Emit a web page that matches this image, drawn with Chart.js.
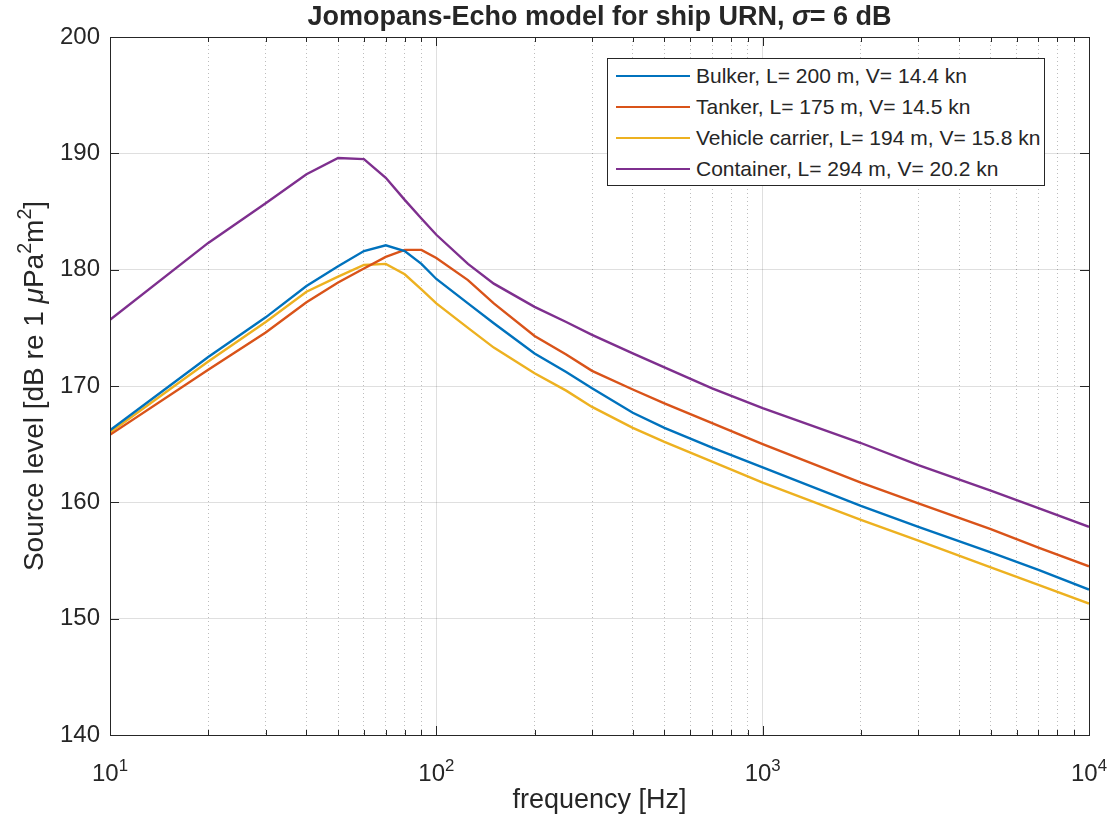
<!DOCTYPE html>
<html>
<head>
<meta charset="utf-8">
<script src="https://cdn.jsdelivr.net/npm/chart.js@4.4.0/dist/chart.umd.min.js"></script>
<style>
  body { margin: 0; background: #fff; }
  #wrap { position: relative; width: 1110px; height: 820px; }
  #legend {
    position: absolute; left: 607px; top: 58px; width: 436px; height: 124px;
    padding-top: 2px; border: 1px solid #262626; background: #fff;
    font: 21px "Liberation Sans", Arial, Helvetica, sans-serif; color: #262626;
  }
  .row { height: 30.8px; display: flex; align-items: center; white-space: nowrap; }
  .swatch { width: 74px; height: 2px; margin-left: 8px; margin-right: 6px; }
</style>
</head>
<body>
<div id="wrap">
  <canvas id="myChart"></canvas>
  <div id="legend"></div>
</div>
<script>
'use strict';

// frequencies in Hz, source levels
const freqs = [10, 20, 30, 40, 50, 60, 70, 80, 90, 100, 125, 150, 200, 250, 300, 400, 500, 700, 1000, 2000, 3000, 5000, 7000, 10000];
const bulker = [166.2, 172.5, 175.9, 178.6, 180.3, 181.6, 182.1, 181.6, 180.5, 179.2, 177.1, 175.4, 172.8, 171.2, 169.8, 167.7, 166.4, 164.7, 163.0, 159.7, 157.9, 155.7, 154.2, 152.5];
const tanker = [165.8, 171.4, 174.6, 177.2, 178.9, 180.1, 181.1, 181.7, 181.7, 181.0, 179.1, 177.1, 174.3, 172.7, 171.3, 169.7, 168.5, 166.8, 165.0, 161.7, 159.9, 157.7, 156.1, 154.5];
const vehicleCarrier = [166.0, 172.1, 175.5, 178.1, 179.4, 180.4, 180.5, 179.6, 178.3, 177.1, 175.0, 173.3, 171.1, 169.6, 168.2, 166.4, 165.2, 163.5, 161.7, 158.5, 156.7, 154.4, 152.9, 151.3];
const container = [175.7, 182.3, 185.7, 188.2, 189.6, 189.5, 187.9, 186.0, 184.4, 183.0, 180.5, 178.8, 176.8, 175.5, 174.4, 172.8, 171.6, 169.8, 168.1, 165.1, 163.2, 161.0, 159.5, 157.9];

const shipLabels = ['Bulker, L= 200 m, V= 14.4 kn', 'Tanker, L= 175 m, V= 14.5 kn', 'Vehicle carrier, L= 194 m, V= 15.8 kn', 'Container, L= 294 m, V= 20.2 kn'];
const shipColors = ['#0072BD', '#D95319', '#EDB120', '#7E2F8E'];

const yTicks = [140, 150, 160, 170, 180, 190, 200];
const xDecades = [10, 100, 1000, 10000];
const xMinor = [20, 30, 40, 50, 60, 70, 80, 90, 200, 300, 400, 500, 600, 700, 800, 900, 2000, 3000, 4000, 5000, 6000, 7000, 8000, 9000];

const FONT = '"Liberation Sans", Arial, Helvetica, sans-serif';
const INK = '#262626';

// draws text made of parts: {t, it (italic), sup (superscript)}
function drawRich(ctx, parts, x, y, size, weight, align) {
  const fontOf = p => (p.it ? 'italic ' : '') + weight + ' ' + (p.sup ? size * 0.7 : size) + 'px ' + FONT;
  let width = 0;
  parts.forEach(p => { ctx.font = fontOf(p); width += ctx.measureText(p.t).width; });
  let cx = align === 'center' ? x - width / 2 : x;
  ctx.textAlign = 'left';
  ctx.textBaseline = 'alphabetic';
  parts.forEach(p => {
    ctx.font = fontOf(p);
    ctx.fillText(p.t, cx, p.sup ? y - size * 0.42 : y);
    cx += ctx.measureText(p.t).width;
  });
}

const matlabAxes = {
  id: 'matlabAxes',
  afterDraw(chart) {
    const {ctx, chartArea: a, scales} = chart;
    ctx.save();
    ctx.fillStyle = INK;
    ctx.strokeStyle = INK;
    ctx.lineWidth = 1;

    // box
    ctx.strokeRect(Math.round(a.left) + 0.5, Math.round(a.top) + 0.5, Math.round(a.right - a.left), Math.round(a.bottom - a.top));

    // inward ticks
    ctx.beginPath();
    xDecades.forEach(v => {
      const px = Math.round(scales.x.getPixelForValue(v)) + 0.5;
      ctx.moveTo(px, a.bottom); ctx.lineTo(px, a.bottom - 9);
      ctx.moveTo(px, a.top); ctx.lineTo(px, a.top + 9);
    });
    xMinor.forEach(v => {
      const px = Math.round(scales.x.getPixelForValue(v)) + 0.5;
      ctx.moveTo(px, a.bottom); ctx.lineTo(px, a.bottom - 5);
      ctx.moveTo(px, a.top); ctx.lineTo(px, a.top + 5);
    });
    yTicks.forEach(v => {
      const py = Math.round(scales.y.getPixelForValue(v)) + 0.5;
      ctx.moveTo(a.left, py); ctx.lineTo(a.left + 9, py);
      ctx.moveTo(a.right, py); ctx.lineTo(a.right - 9, py);
    });
    ctx.stroke();

    // x tick labels 10^n
    xDecades.forEach(v => {
      const px = scales.x.getPixelForValue(v);
      drawRich(ctx, [{t: '10'}, {t: String(Math.round(Math.log10(v))), sup: true}], px, 781, 24, 'normal', 'center');
    });

    // title
    const cx = (a.left + a.right) / 2;
    drawRich(ctx, [{t: 'Jomopans-Echo model for ship URN, '}, {t: '\u03C3', it: true}, {t: '= 6 dB'}], cx, 25, 27, 'bold', 'center');

    // y label
    ctx.translate(43, (a.top + a.bottom) / 2);
    ctx.rotate(-Math.PI / 2);
    drawRich(ctx, [{t: 'Source level [dB re 1 '}, {t: '\u03BC', it: true}, {t: 'Pa'}, {t: '2', sup: true}, {t: 'm'}, {t: '2', sup: true}, {t: ']'}], 0, 0, 28, 'normal', 'center');
    ctx.restore();
  }
};

const series = [bulker, tanker, vehicleCarrier, container];
const datasets = series.map((vals, i) => ({
  label: shipLabels[i],
  data: freqs.map((f, j) => ({x: f, y: vals[j]})),
  borderColor: shipColors[i],
  backgroundColor: shipColors[i],
  borderWidth: 2.4,
  pointRadius: 0,
  tension: 0,
  fill: false
}));

const majorGrid = 'rgba(38,38,38,0.15)';
const minorGrid = 'rgba(38,38,38,0.3)';

const chart = new Chart(document.getElementById('myChart'), {
  type: 'line',
  data: {datasets: datasets},
  options: {
    responsive: true,
    maintainAspectRatio: false,
    animation: false,
    events: [],
    layout: {padding: {top: 37, right: 21, bottom: 0, left: 0}},
    plugins: {legend: {display: false}, title: {display: false}, tooltip: {enabled: false}},
    scales: {
      x: {
        type: 'logarithmic',
        min: 10,
        max: 10000,
        position: 'bottom',
        afterBuildTicks: scale => { scale.ticks = xDecades.map(v => ({value: v})); },
        afterFit: scale => { scale.height = 85; },
        ticks: {display: false},
        grid: {color: majorGrid, drawTicks: false},
        border: {display: false},
        title: {display: true, text: 'frequency [Hz]', color: INK, font: {family: FONT, size: 27}, padding: {top: 0, bottom: 3}}
      },
      x2: {
        type: 'logarithmic',
        min: 10,
        max: 10000,
        position: 'bottom',
        afterBuildTicks: scale => { scale.ticks = xMinor.map(v => ({value: v})); },
        afterFit: scale => { scale.height = 0; },
        ticks: {display: false},
        grid: {color: minorGrid, drawTicks: false},
        border: {display: false, dash: [1, 3]}
      },
      y: {
        min: 140,
        max: 200,
        afterBuildTicks: scale => { scale.ticks = yTicks.map(v => ({value: v})); },
        afterFit: scale => { scale.width = 110; },
        ticks: {color: INK, font: {family: FONT, size: 24}, padding: 10},
        grid: {color: majorGrid, drawTicks: false},
        border: {display: false}
      }
    }
  },
  plugins: [matlabAxes]
});

// legend box
const legend = document.getElementById('legend');
shipLabels.forEach((label, i) => {
  const row = document.createElement('div');
  row.className = 'row';
  const sw = document.createElement('span');
  sw.className = 'swatch';
  sw.style.background = shipColors[i];
  const txt = document.createElement('span');
  txt.textContent = label;
  row.appendChild(sw);
  row.appendChild(txt);
  legend.appendChild(row);
});
</script>
</body>
</html>
